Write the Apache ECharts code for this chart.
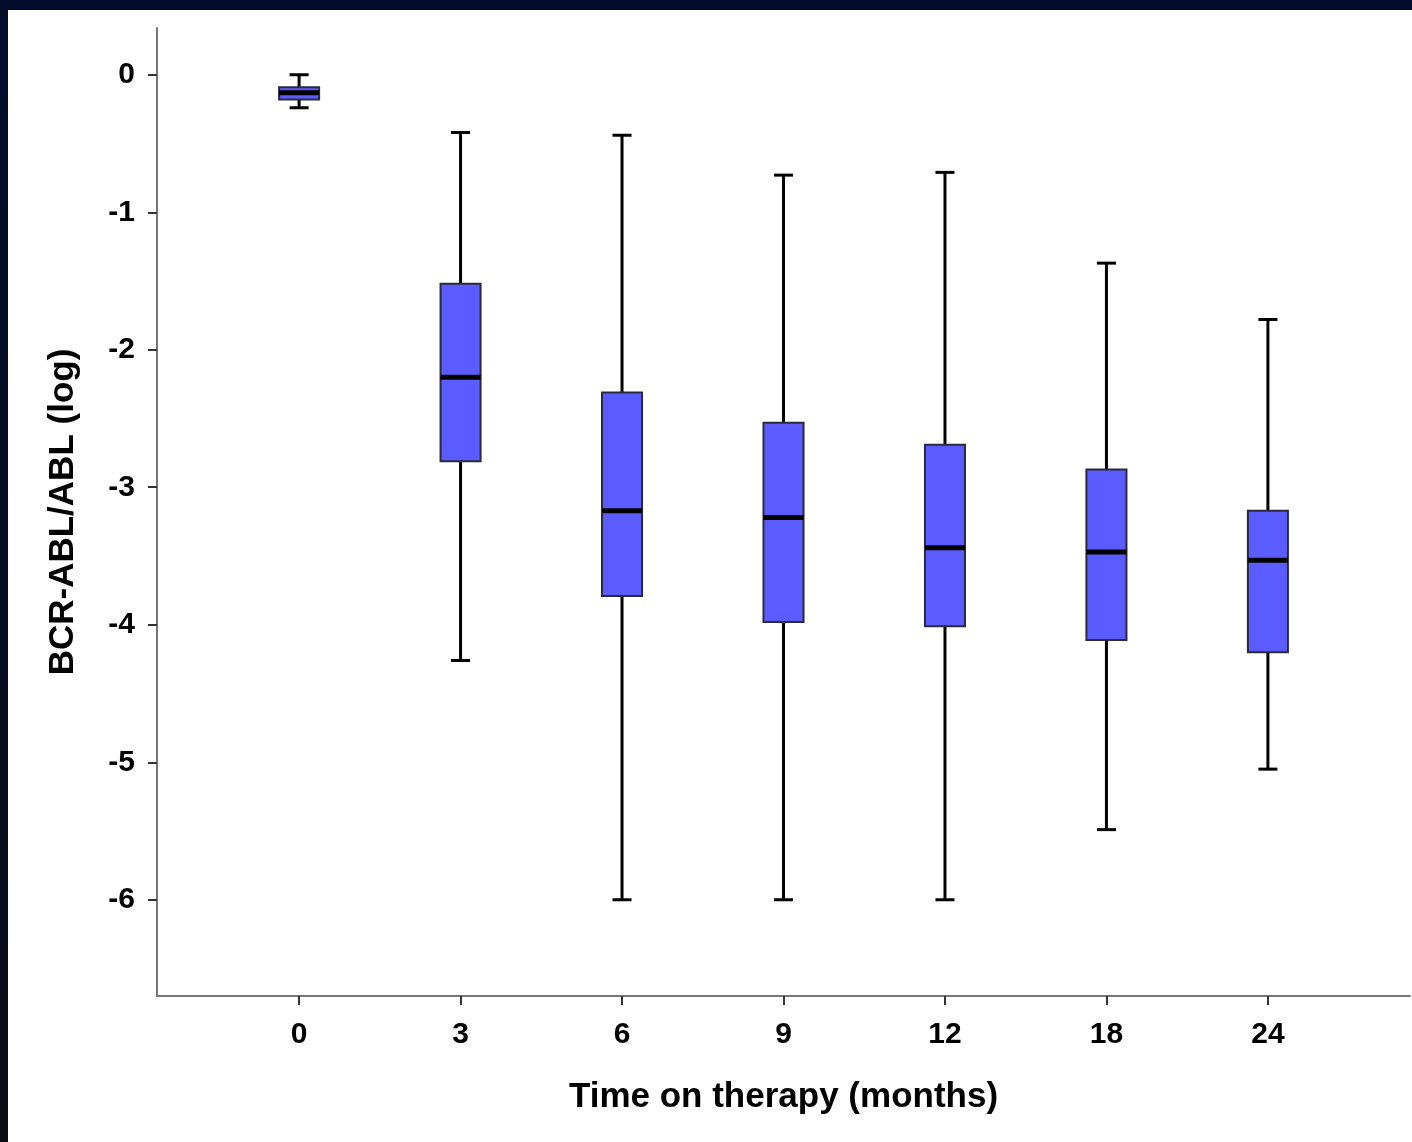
<!DOCTYPE html>
<html>
<head>
<meta charset="utf-8">
<script src="https://cdn.jsdelivr.net/npm/echarts@6/dist/echarts.min.js"></script>
<style>
  html, body { margin: 0; padding: 0; width: 1412px; height: 1142px; overflow: hidden; background: #010c2c; }
  #frameLeft { position: absolute; left: 0; top: 0; width: 8px; height: 1142px; background: linear-gradient(#010c2c, #0a0d16); }
  #chart { position: absolute; left: 8px; top: 10px; width: 1404px; height: 1132px; background: #ffffff; }
</style>
</head>
<body>
<div id="frameLeft"></div>
<div id="chart"></div>
<script>
// Data
const categories = ['0', '3', '6', '9', '12', '18', '24'];
const whiskerLow  = [-0.24, -4.26, -6.00, -6.00, -6.00, -5.49, -5.05];
const quartile1   = [-0.18, -2.81, -3.79, -3.98, -4.01, -4.11, -4.20];
const medians     = [-0.13, -2.20, -3.17, -3.22, -3.44, -3.47, -3.53];
const quartile3   = [-0.09, -1.52, -2.31, -2.53, -2.69, -2.87, -3.17];
const whiskerHigh = [ 0.00, -0.42, -0.44, -0.73, -0.71, -1.37, -1.78];
const yTicks = [0, -1, -2, -3, -4, -5, -6];

const boxData = categories.map((c, i) => [i, whiskerLow[i], quartile1[i], medians[i], quartile3[i], whiskerHigh[i]]);

const chart = echarts.init(document.getElementById('chart'), null, { renderer: 'canvas' });
const FONT = 'Liberation Sans, Arial, sans-serif';

chart.setOption({
  animation: false,
  backgroundColor: '#ffffff',
  grid: { left: 149, top: 18, width: 1253, height: 968, containLabel: false },
  xAxis: {
    type: 'value',
    min: -0.88, max: 6.88,
    name: 'Time on therapy (months)',
    nameLocation: 'middle',
    nameGap: 84,
    nameTextStyle: { fontFamily: FONT, fontWeight: 'bold', fontSize: 35, color: '#000' },
    axisLine: { show: true, onZero: false, lineStyle: { color: '#777777', width: 2 } },
    axisTick: { show: true, length: 9, customValues: categories.map((c, i) => i), lineStyle: { color: '#333333', width: 2 } },
    axisLabel: {
      customValues: categories.map((c, i) => i),
      formatter: v => categories[Math.round(v)],
      margin: 24,
      fontFamily: FONT, fontWeight: 'bold', fontSize: 30, color: '#000'
    },
    splitLine: { show: false }
  },
  yAxis: {
    type: 'value',
    min: -6.7, max: 0.34,
    name: 'BCR-ABL/ABL (log)',
    nameLocation: 'middle',
    nameGap: 76,
    nameRotate: 90,
    nameTextStyle: { fontFamily: FONT, fontWeight: 'bold', fontSize: 35, color: '#000' },
    axisLine: { show: true, onZero: false, lineStyle: { color: '#777777', width: 2 } },
    axisTick: { show: true, length: 9, customValues: yTicks, lineStyle: { color: '#333333', width: 2 } },
    axisLabel: {
      customValues: yTicks,
      margin: 22,
      fontFamily: FONT, fontWeight: 'bold', fontSize: 30, color: '#000'
    },
    splitLine: { show: false }
  },
  series: [{
    type: 'custom',
    data: boxData,
    clip: false,
    encode: { x: 0, y: [1, 2, 3, 4, 5] },
    renderItem: function (params, api) {
      const x = api.value(0);
      const lo = api.coord([x, api.value(1)]);
      const q1 = api.coord([x, api.value(2)]);
      const md = api.coord([x, api.value(3)]);
      const q3 = api.coord([x, api.value(4)]);
      const hi = api.coord([x, api.value(5)]);
      const boxW = api.size([0.248, 0])[0];
      const capW = api.size([0.118, 0])[0];
      const cx = lo[0];
      const whisk = { stroke: '#000000', lineWidth: 3 };
      return {
        type: 'group',
        children: [
          { type: 'line', shape: { x1: cx, y1: lo[1], x2: cx, y2: q1[1] }, style: whisk },
          { type: 'line', shape: { x1: cx, y1: q3[1], x2: cx, y2: hi[1] }, style: whisk },
          { type: 'line', shape: { x1: cx - capW / 2, y1: lo[1], x2: cx + capW / 2, y2: lo[1] }, style: whisk },
          { type: 'line', shape: { x1: cx - capW / 2, y1: hi[1], x2: cx + capW / 2, y2: hi[1] }, style: whisk },
          { type: 'rect', shape: { x: cx - boxW / 2, y: q3[1], width: boxW, height: q1[1] - q3[1] },
            style: { fill: '#5b5cff', stroke: '#2a2a3a', lineWidth: 2 } },
          { type: 'line', shape: { x1: cx - boxW / 2, y1: md[1], x2: cx + boxW / 2, y2: md[1] },
            style: { stroke: '#000000', lineWidth: 5 } }
        ]
      };
    }
  }]
});
</script>
</body>
</html>
